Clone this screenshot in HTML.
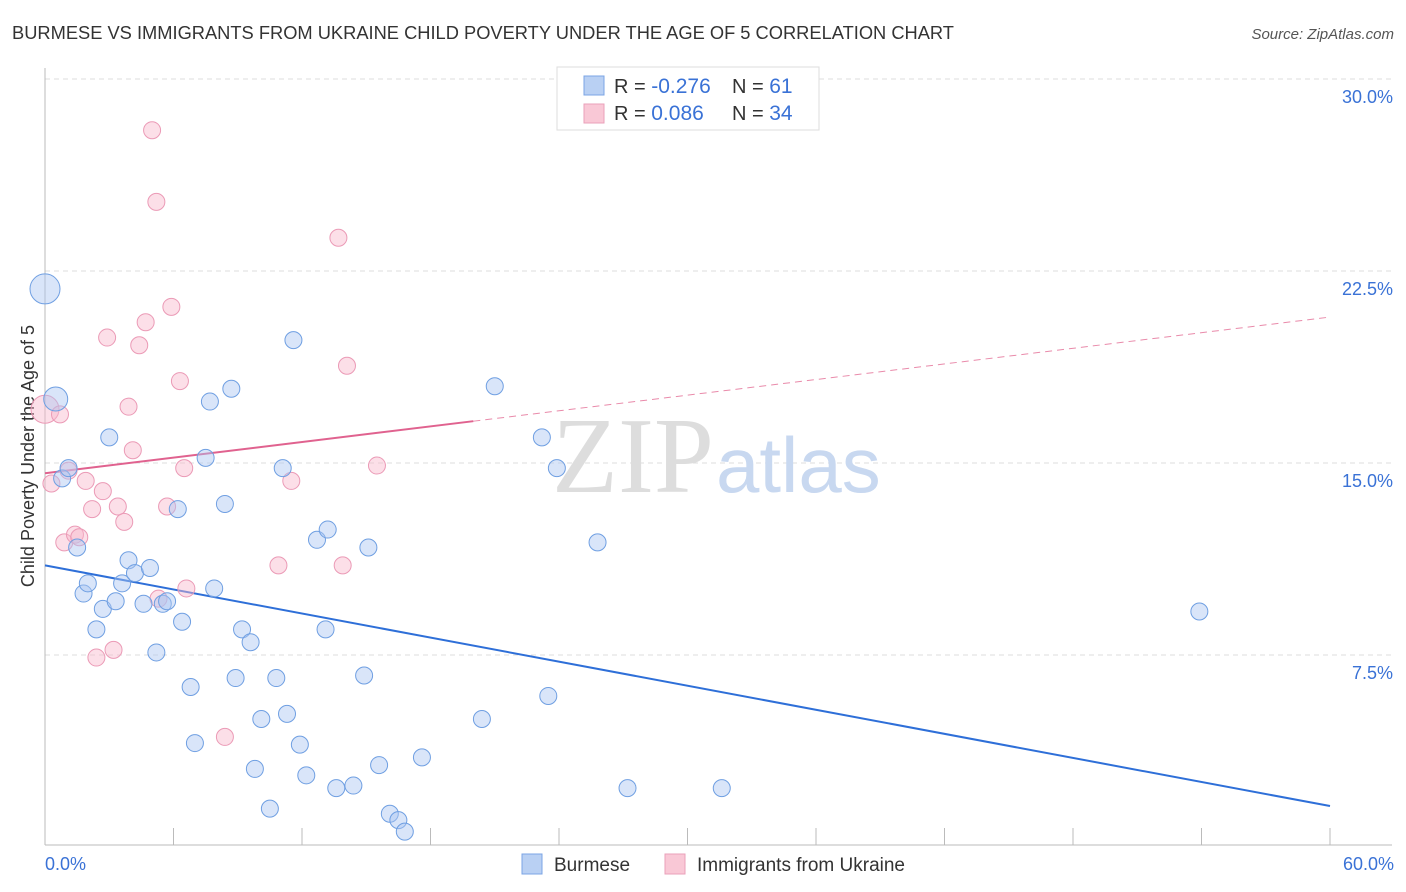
<!DOCTYPE html>
<html><head><meta charset="utf-8"><style>
body{margin:0;background:#fff;font-family:"Liberation Sans",sans-serif;}
svg{display:block}
</style></head><body>
<svg id="chart" width="1406" height="892" xmlns="http://www.w3.org/2000/svg">
<text x="12" y="39" font-size="18.3" fill="#333">BURMESE VS IMMIGRANTS FROM UKRAINE CHILD POVERTY UNDER THE AGE OF 5 CORRELATION CHART</text>
<text x="1394" y="39" font-size="15" fill="#555" font-style="italic" text-anchor="end">Source: ZipAtlas.com</text>
<text x="34" y="456" font-size="18" fill="#333" text-anchor="middle" transform="rotate(-90 34 456)">Child Poverty Under the Age of 5</text>
<g id="grid"></g>
<g id="axes"></g>
<text x="714" y="492" font-size="108" fill="#ddd" font-family="Liberation Serif" text-anchor="end">ZIP</text>
<text x="716" y="492" font-size="78" fill="#c8d8f0">atlas</text>
<g id="lines"></g>
<g id="points"></g>
<g>
<rect x="557" y="67" width="262" height="63" fill="#fff" stroke="#ddd"/>
<rect x="584" y="76" width="20" height="19" fill="#b9d0f3" stroke="#7ba4e4"/>
<rect x="584" y="104" width="20" height="19" fill="#f9c8d6" stroke="#eaa0ba"/>
<text x="614" y="93" font-size="20" fill="#333">R = <tspan fill="#3a72d6" font-size="21">-0.276</tspan></text>
<text x="732" y="93" font-size="20" fill="#333">N = <tspan fill="#3a72d6" font-size="21"> 61</tspan></text>
<text x="614" y="120" font-size="20" fill="#333">R = <tspan fill="#3a72d6" font-size="21"> 0.086</tspan></text>
<text x="732" y="120" font-size="20" fill="#333">N = <tspan fill="#3a72d6" font-size="21">34</tspan></text>
</g>
<g>
<rect x="522" y="854" width="20" height="20" fill="#b9d0f3" stroke="#7ba4e4"/>
<text x="554" y="871" font-size="19" fill="#333">Burmese</text>
<rect x="665" y="854" width="20" height="20" fill="#f9c8d6" stroke="#eaa0ba"/>
<text x="697" y="871" font-size="19" fill="#333">Immigrants from Ukraine</text>
</g>
</svg>
<script>
const yTicks=[7.5,15,22.5,30];
const yTickLabels=["7.5%","15.0%","22.5%","30.0%"];
const xTickLabels=["0.0%","60.0%"];
const burmeseX=[0,0.5,0.8,1.1,1.5,1.8,2.0,2.4,2.7,3.0,3.3,3.6,3.9,4.2,4.6,4.9,5.2,5.5,5.7,6.2,6.4,6.8,7.0,7.5,7.7,7.9,8.4,8.7,8.9,9.2,9.6,9.8,10.1,10.5,10.8,11.1,11.3,11.6,11.9,12.2,12.7,13.1,13.2,13.6,14.4,14.9,15.1,15.6,16.1,16.5,16.8,17.6,20.4,21.0,23.2,23.5,23.9,25.8,27.2,31.6,53.9];
const burmeseY=[21.8,17.5,14.4,14.8,11.7,9.9,10.3,8.5,9.3,16.0,9.6,10.3,11.2,10.7,9.5,10.9,7.6,9.5,9.6,13.2,8.8,6.25,4.06,15.2,17.4,10.1,13.4,17.9,6.6,8.5,8.0,3.05,5.0,1.5,6.6,14.8,5.2,19.8,4.0,2.8,12.0,8.5,12.4,2.3,2.4,6.7,11.7,3.2,1.3,1.05,0.6,3.5,5.0,18.0,16.0,5.9,14.8,11.9,2.3,2.3,9.2];
const ukraineX=[0,0.3,0.7,0.9,1.1,1.4,1.6,1.9,2.2,2.4,2.7,2.9,3.2,3.4,3.7,3.9,4.1,4.4,4.7,5.0,5.2,5.3,5.7,5.9,6.3,6.5,6.6,8.4,10.9,11.5,13.7,13.9,14.1,15.5];
const ukraineY=[17.1,14.2,16.9,11.9,14.7,12.2,12.1,14.3,13.2,7.4,13.9,19.9,7.7,13.3,12.7,17.2,15.5,19.6,20.5,28.0,25.2,9.7,13.3,21.1,18.2,14.8,10.1,4.3,11.0,14.3,23.8,11.0,18.8,14.9];
const burmeseTrend=[11.0,1.6];
const ukraineTrend=[14.6,20.7];
const NS="http://www.w3.org/2000/svg";
const X=v=>45+v*(1285/60), Y=v=>847-v*25.6;
function mk(t,a,p){const e=document.createElementNS(NS,t);for(const k in a)e.setAttribute(k,a[k]);p.appendChild(e);return e;}
const grid=document.getElementById('grid'),axes=document.getElementById('axes');
yTicks.forEach((t,i)=>{
 const l=mk('line',{x1:45,x2:1392,y1:Y(t),y2:Y(t),stroke:'#ddd','stroke-dasharray':'5,4'},grid);
 
 
 const tx=mk('text',{x:1393,y:Y(t)+24,'font-size':18,fill:'#3a72d6','text-anchor':'end'},grid);
 tx.textContent=yTickLabels[i];
 
 
});
mk('line',{x1:45,x2:45,y1:68,y2:845,stroke:'#bbb'},axes);
mk('line',{x1:45,x2:1392,y1:845,y2:845,stroke:'#bbb'},axes);
for(let i=1;i<=10;i++){const t=mk('line',{x1:X(i*6),x2:X(i*6),y1:828,y2:845,stroke:'#bbb'},axes);}
[[0,'start',45],[60,'end',1394]].forEach((d,i)=>{const t=mk('text',{x:d[2],y:870,'font-size':18,fill:'#3a72d6','text-anchor':d[1]},axes);t.textContent=xTickLabels[i];});
const lines=document.getElementById('lines');
const bl=mk('line',{x1:X(0),y1:Y(burmeseTrend[0]),x2:X(60),y2:Y(burmeseTrend[1]),stroke:'#2e6fd8','stroke-width':2},lines);


const uy=x=>ukraineTrend[0]+(ukraineTrend[1]-ukraineTrend[0])*x/60;
const ul=mk('line',{x1:X(0),y1:Y(uy(0)),x2:X(20),y2:Y(uy(20)),stroke:'#e0628f','stroke-width':2},lines);


const ud=mk('line',{x1:X(20),y1:Y(uy(20)),x2:X(60),y2:Y(uy(60)),stroke:'#e98aaa','stroke-width':1,'stroke-dasharray':'7,5'},lines);


const pts=document.getElementById('points');
ukraineX.forEach((x,i)=>{const c=mk('circle',{cx:X(x),cy:Y(ukraineY[i]),r:i==0?14:8.5,fill:'rgba(248,185,205,0.45)',stroke:'#eb9ab6','stroke-width':1},pts);
 
 });
burmeseX.forEach((x,i)=>{const c=mk('circle',{cx:X(x),cy:Y(burmeseY[i]),r:i==0?15:(i==1?12:8.5),fill:'rgba(170,198,242,0.45)',stroke:'#6f9fe2','stroke-width':1},pts);
 
 });
</script>
</body></html>
